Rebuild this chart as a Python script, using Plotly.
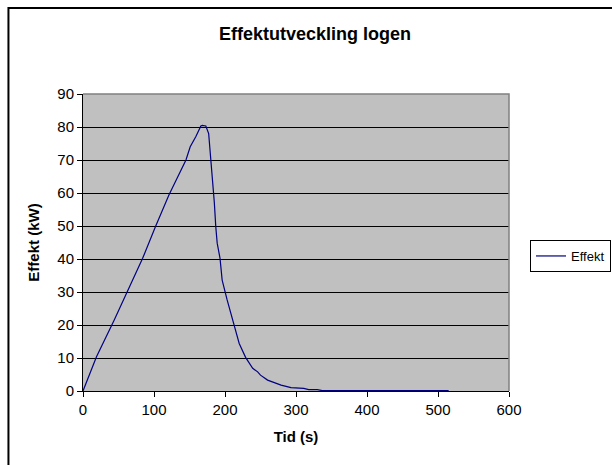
import plotly.graph_objects as go

# Time (s) and heat release (kW)
tid_s = [0, 19, 44, 62, 84, 102, 121, 145, 151, 159, 166, 168, 171, 173, 177,
         180, 184, 185, 187, 189, 193, 196, 203, 213, 220, 229, 236, 239, 246,
         250, 260, 279, 293, 311, 318, 330, 337, 515]
effekt_kw = [0, 10.4, 21.5, 30.1, 40.2, 49.8, 59.4, 70, 74, 77.1, 80.3, 80.5,
             80.5, 80.3, 78, 70, 61, 57, 49.8, 44.8, 40.2, 33.6, 27.6, 19.5,
             14.4, 10.2, 7.9, 6.9, 5.8, 4.8, 3.3, 1.8, 1.0, 0.8, 0.4, 0.4, 0.1, 0.1]

x_ticks = [0, 100, 200, 300, 400, 500, 600]
y_ticks = [0, 10, 20, 30, 40, 50, 60, 70, 80, 90]

FONT = "Liberation Sans, Arial, sans-serif"

fig = go.Figure()
fig.add_trace(go.Scatter(
    x=tid_s, y=effekt_kw, mode="lines", name="Effekt",
    line=dict(color="#000080", width=1.2),
))

fig.update_layout(
    width=612, height=465,
    margin=dict(l=83, r=103, t=94, b=74, pad=0, autoexpand=False),
    paper_bgcolor="white",
    plot_bgcolor="#C0C0C0",
    font=dict(family=FONT, size=15, color="black"),
    title=dict(text="<b>Effektutveckling logen</b>", x=315 / 612, xref="container",
               xanchor="center", y=1 - 34 / 465, yref="container", yanchor="middle",
               font=dict(size=18, family=FONT, color="black")),
    showlegend=True,
    legend=dict(x=(530 - 83) / 426, xanchor="left", y=(391 - 240) / 297, yanchor="top",
                bordercolor="black", borderwidth=1, bgcolor="white",
                font=dict(size=13, family=FONT), itemwidth=30,
                tracegroupgap=0),
    xaxis=dict(range=[0, 600], tickvals=x_ticks, ticks="outside", ticklen=5,
               tickcolor="black", showgrid=False, zeroline=False,
               showline=True, linecolor="black", linewidth=1,
               title=dict(text="<b>Tid (s)</b>", standoff=14,
                          font=dict(size=15, family=FONT))),
    yaxis=dict(range=[0, 90], tickvals=y_ticks, ticks="outside", ticklen=5,
               tickcolor="black", showgrid=True, gridcolor="black", gridwidth=1,
               zeroline=False, showline=True, linecolor="black", linewidth=1,
               title=dict(text="<b>Effekt (kW)</b>", standoff=14,
                          font=dict(size=15, family=FONT))),
    shapes=[
        # grey plot-area frame on top and right
        dict(type="path", xref="paper", yref="paper",
             path="M 0,1 L 1,1 L 1,0", line=dict(color="#808080", width=1.5),
             layer="above"),
        # chart-area border
        dict(type="rect", xref="paper", yref="paper",
             x0=-0.175, x1=1.5, y0=-0.5, y1=1.2896,
             line=dict(color="black", width=2), layer="above"),
    ],
)

fig.write_html("out.html")
